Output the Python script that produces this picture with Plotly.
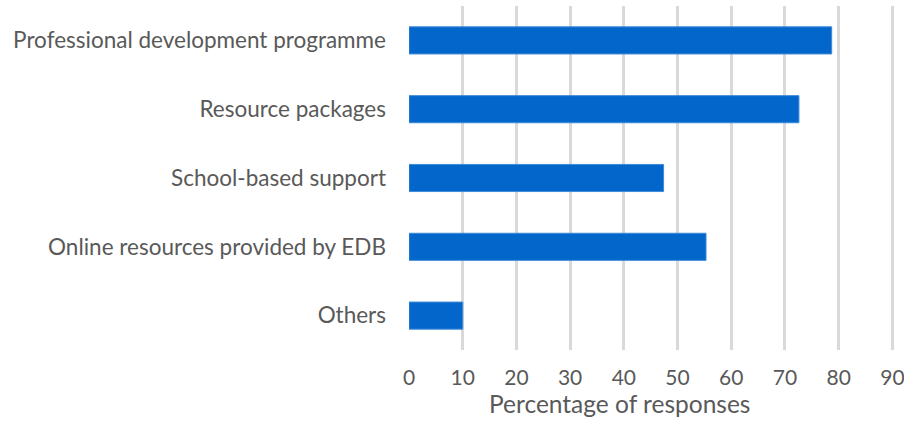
import plotly.graph_objects as go

categories = [
    "Professional development programme",
    "Resource packages",
    "School-based support",
    "Online resources provided by EDB",
    "Others",
]
values = [78.7, 72.6, 47.4, 55.3, 10.0]
x_ticks = [0, 10, 20, 30, 40, 50, 60, 70, 80, 90]
x_title = "Percentage of responses"

fig = go.Figure(
    go.Bar(
        y=categories,
        x=values,
        orientation="h",
        marker=dict(color="#0366CB", line=dict(color="#3C8AD8", width=1)),
    )
)

font_family = "Lato, Open Sans, sans-serif"
fig.update_layout(
    width=904,
    height=421,
    margin=dict(l=409, r=10, t=6, b=71, autoexpand=False),
    paper_bgcolor="white",
    plot_bgcolor="white",
    bargap=0.606,
    showlegend=False,
    font=dict(family=font_family, color="#595959", size=21),
)
fig.update_xaxes(
    range=[0, 90.3],
    tickvals=x_ticks,
    automargin=False,
    showgrid=True,
    gridcolor="#D9D9D9",
    gridwidth=2.5,
    zeroline=False,
    showline=False,
    ticks="",
    ticklabeloverflow="allow",
    ticklabelstandoff=13,
    tickfont=dict(size=21, color="#595959"),
)
fig.update_yaxes(
    categoryorder="array",
    categoryarray=categories[::-1],
    automargin=False,
    showgrid=False,
    zeroline=False,
    showline=False,
    ticks="",
    ticklabelstandoff=22,
    tickfont=dict(size=22.5, color="#595959"),
)
fig.add_annotation(
    text=x_title,
    xref="paper",
    yref="paper",
    x=0.435,
    y=0,
    xanchor="center",
    yanchor="middle",
    yshift=-53,
    showarrow=False,
    font=dict(size=24.5, color="#595959"),
)

fig.write_html(
    "out.html",
    config={"displayModeBar": False},
    post_script="document.body.style.margin='0';document.body.style.padding='0';",
)
